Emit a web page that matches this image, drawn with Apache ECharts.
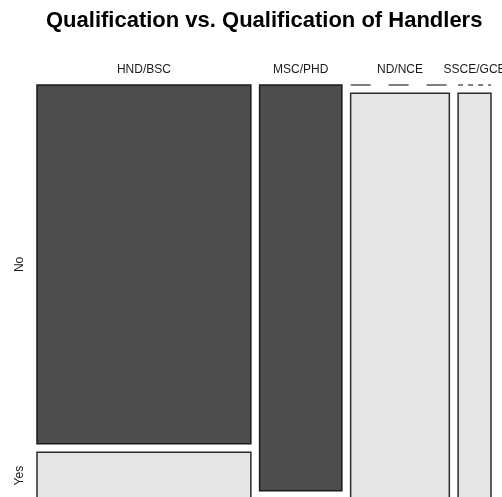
<!DOCTYPE html>
<html>
<head>
<meta charset="utf-8">
<script src="https://cdn.jsdelivr.net/npm/echarts@6/dist/echarts.min.js"></script>
<style>
  html, body { margin: 0; padding: 0; background: #fff; overflow: hidden; }
  /* the plot runs slightly past the bottom edge, as in the source image */
  #chart { width: 502px; height: 499px; }
</style>
</head>
<body>
<div id="chart"></div>
<script>
// column categories (qualification) and row categories (answer)
const columns = ['HND/BSC', 'MSC/PHD', 'ND/NCE', 'SSCE/GCE']
const rows = ['No', 'Yes']
// counts per column, one array per row
const countNo = [23, 10, 0, 0]
const countYes = [3, 0, 12, 4]

const GAP = 0.0205 // spacing between tiles, in proportion units
const FONT = 'Liberation Sans, Arial, sans-serif'

const colTotals = columns.map((c, i) => countNo[i] + countYes[i])
const grand = colTotals.reduce((a, b) => a + b, 0)

// build tiles: x0,x1 along columns, y0,y1 down the rows
const tiles = []
let xCursor = 0
columns.forEach((col, i) => {
  const w = colTotals[i] / grand
  let yCursor = 0
  const cells = [countNo[i], countYes[i]]
  cells.forEach((n, r) => {
    const h = n / colTotals[i]
    tiles.push([xCursor, xCursor + w, yCursor, yCursor + h, r, i, n])
    yCursor += h + GAP
  })
  xCursor += w + GAP
})
const xMax = 1 + GAP * (columns.length - 1)
const yMax = 1 + GAP * (rows.length - 1)

const chart = echarts.init(document.getElementById('chart'))

chart.setOption({
  animation: false,
  title: {
    text: 'Qualification vs. Qualification of Handlers',
    left: 41,
    top: 5,
    textStyle: { fontFamily: FONT, fontSize: 22, fontWeight: 'bold', color: '#000' }
  },
  grid: { left: 37, right: 11, top: 85, bottom: 0 },
  xAxis: { type: 'value', min: 0, max: xMax, show: false },
  yAxis: { type: 'value', min: 0, max: yMax, inverse: true, show: false },
  series: [
    {
      type: 'custom',
      data: tiles,
      clip: false,
      renderItem: (params, api) => {
        const x0 = api.value(0), x1 = api.value(1)
        const y0 = api.value(2), y1 = api.value(3)
        const r = api.value(4), n = api.value(6)
        const p0 = api.coord([x0, y0])
        const p1 = api.coord([x1, y1])
        if (n === 0) {
          const w = p1[0] - p0[0]
          return {
            type: 'line',
            shape: { x1: p0[0], y1: p0[1], x2: p1[0], y2: p0[1] },
            style: {
              stroke: '#000',
              lineWidth: 1,
              lineDash: w > 60 ? [20, 18] : [5, 5]
            }
          }
        }
        const dark = rows[r] === 'No'
        return {
          type: 'rect',
          shape: { x: p0[0], y: p0[1], width: p1[0] - p0[0], height: p1[1] - p0[1] },
          style: {
            fill: dark ? '#4d4d4d' : '#e5e5e5',
            stroke: dark ? '#1a1a1a' : '#2b2b2b',
            lineWidth: 1.5
          }
        }
      }
    },
    {
      // column labels along the top
      type: 'custom',
      data: columns.map((c, i) => {
        const t = tiles[i * rows.length]
        return [(t[0] + t[1]) / 2, i]
      }),
      clip: false,
      renderItem: (params, api) => {
        const p = api.coord([api.value(0), 0])
        return {
          type: 'text',
          x: p[0],
          y: p[1] - 15,
          style: {
            text: columns[api.value(1)],
            fontFamily: FONT,
            fontSize: 12,
            fill: '#1a1a1a',
            align: 'center',
            verticalAlign: 'middle'
          }
        }
      }
    },
    {
      // row labels down the left, placed at first column's tiles
      type: 'custom',
      data: rows.map((r, k) => {
        const t = tiles[k]
        return [(t[2] + t[3]) / 2, k]
      }),
      clip: false,
      renderItem: (params, api) => {
        const p = api.coord([0, api.value(0)])
        return {
          type: 'text',
          x: p[0] - 17,
          y: p[1],
          rotation: Math.PI / 2,
          style: {
            text: rows[api.value(1)],
            fontFamily: FONT,
            fontSize: 12,
            fill: '#1a1a1a',
            align: 'center',
            verticalAlign: 'middle'
          }
        }
      }
    }
  ]
})

window.addEventListener('resize', () => chart.resize())
</script>
</body>
</html>
